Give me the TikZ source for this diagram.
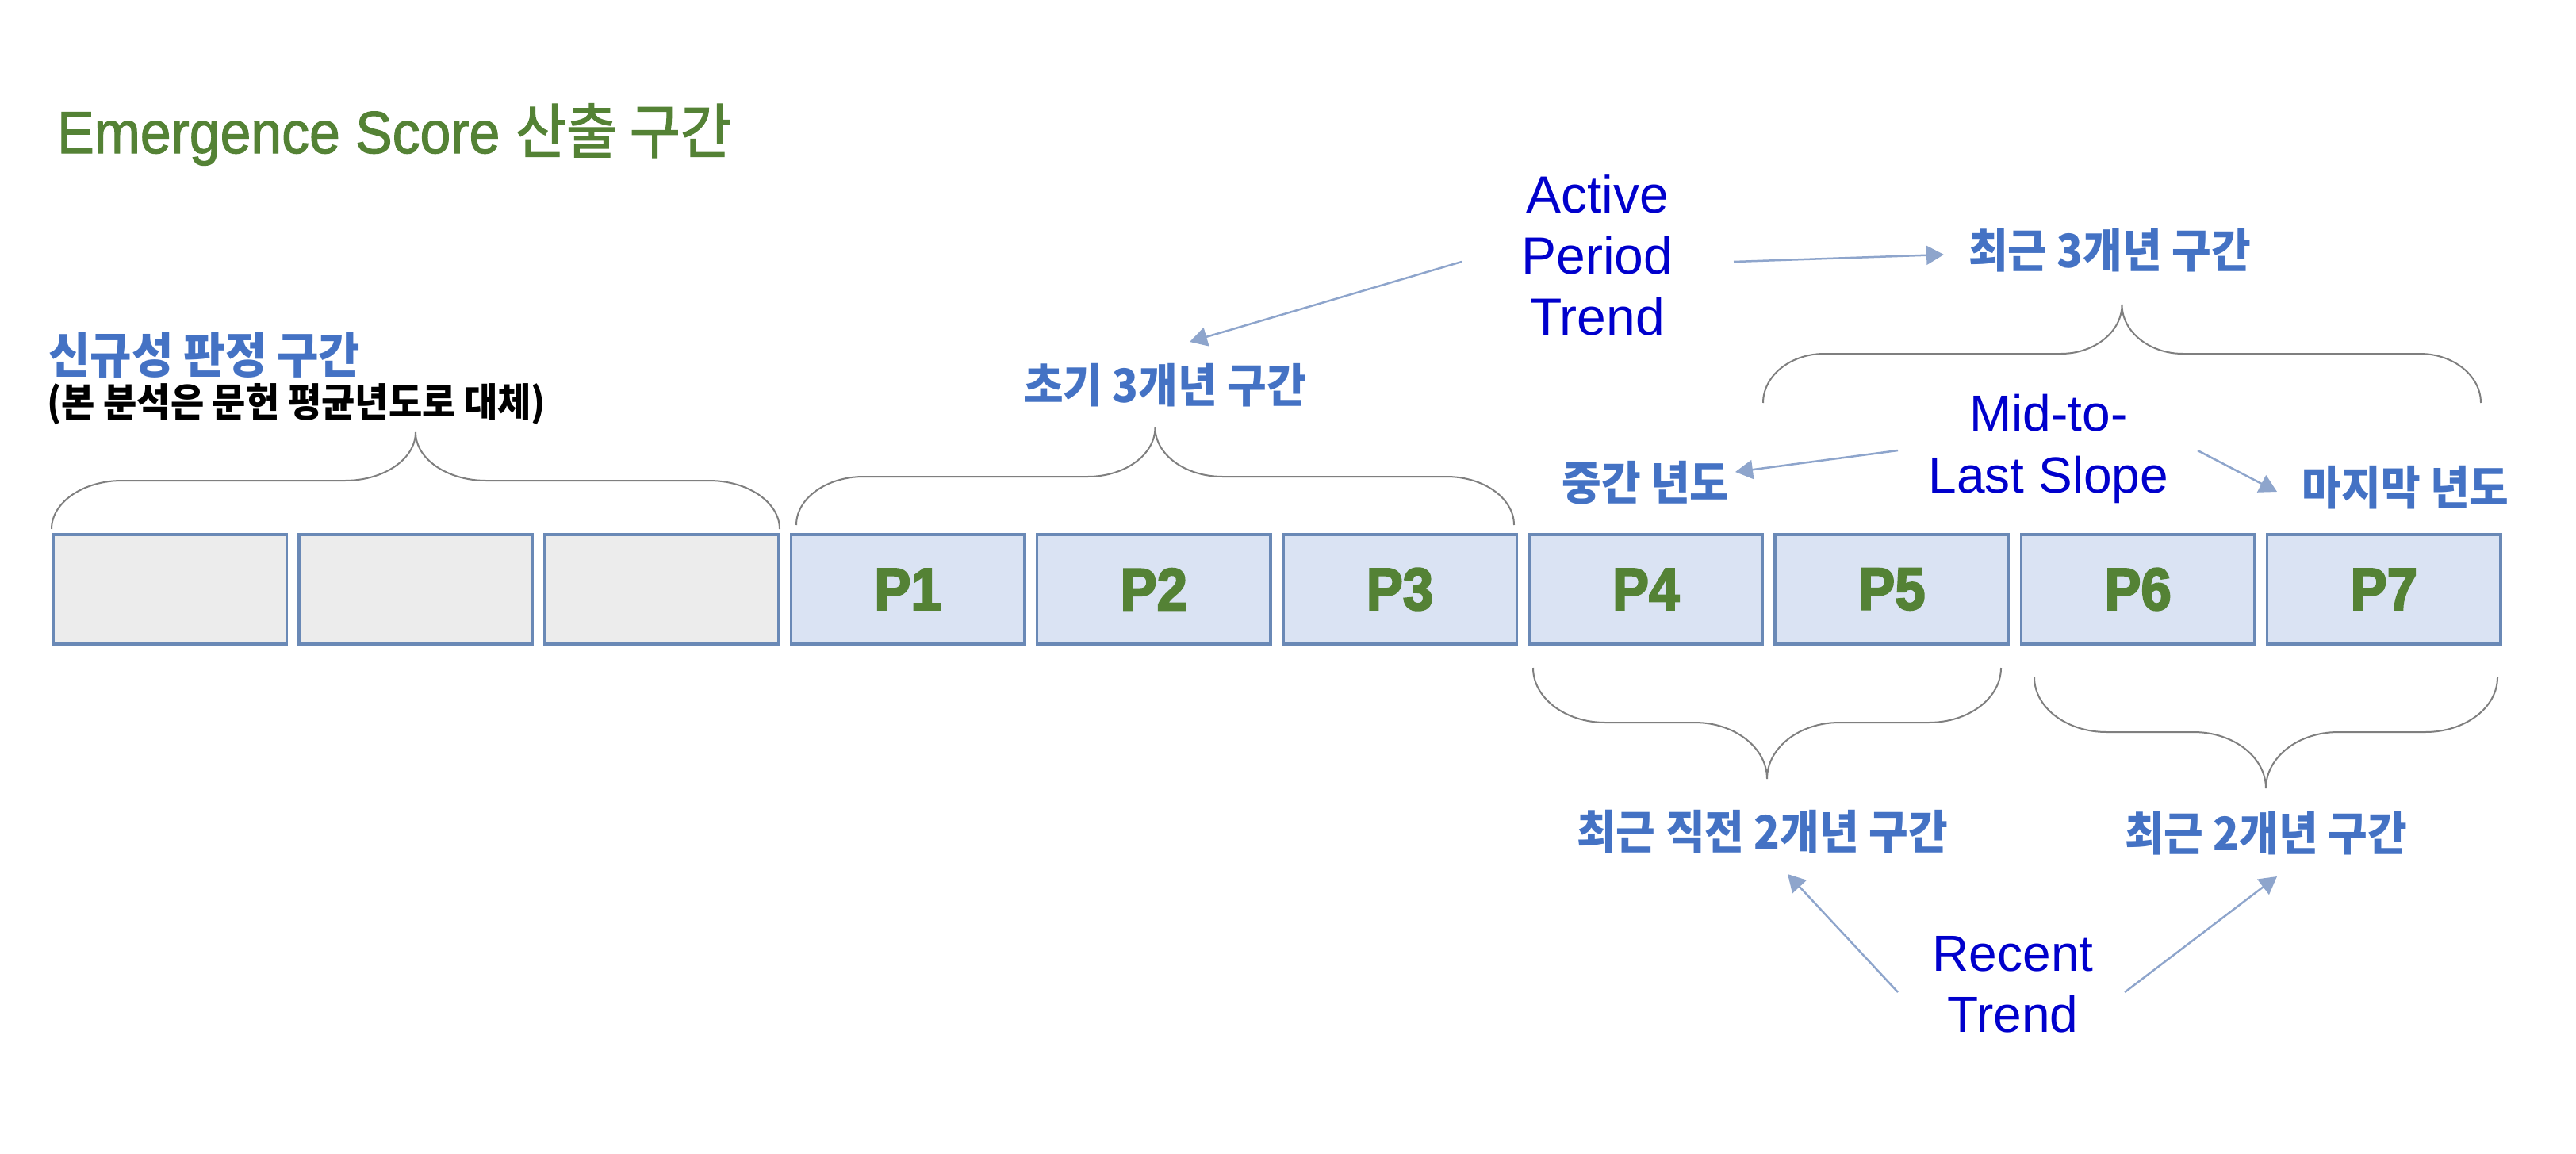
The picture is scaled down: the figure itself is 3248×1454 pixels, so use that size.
\documentclass[tikz,border=0pt]{standalone}
\usepackage{fontspec}
\usepackage{graphicx}
\usetikzlibrary{arrows.meta}
\setmainfont{Liberation Sans}
\newfontfamily\kr{Noto Sans CJK KR}
\newfontfamily\titlefont{Liberation Sans}[FakeBold=1.6]
\newfontfamily\krtitle{Noto Sans CJK KR}[FakeBold=1.8]
\newfontfamily\pfont{Liberation Sans}[BoldFeatures={FakeBold=3}]
\newcommand{\kv}[1]{\scalebox{1}[1.08]{#1}}
\definecolor{titlegreen}{HTML}{548235}
\definecolor{lblblue}{HTML}{4472C4}
\definecolor{darkblue}{HTML}{0000CC}
\definecolor{arrcol}{HTML}{8EA5CC}
\definecolor{boxedge}{HTML}{6A89B6}
\definecolor{boxblue}{HTML}{DAE3F3}
\definecolor{boxgray}{HTML}{ECECEC}
\definecolor{bracecol}{HTML}{7F7F7F}
\tikzset{
  graybox/.style={draw=boxedge, line width=3.5pt, fill=boxgray, minimum width=294.5pt, minimum height=138pt, inner sep=0pt},
  bluebox/.style={draw=boxedge, line width=3.5pt, fill=boxblue, minimum width=294.5pt, minimum height=138pt, inner sep=0pt,
    font=\pfont\bfseries\fontsize{75}{75}\selectfont, text=titlegreen},
  krlabel/.style={inner sep=0pt, text=lblblue, font=\kr\bfseries\fontsize{54}{54}\selectfont},
  enlabel/.style={inner sep=0pt, text=darkblue, align=center},
  brc/.style={draw=bracecol, line width=2pt},
  arr/.style={draw=arrcol, line width=2.5pt, -{Triangle[length=22pt,width=24pt]}}
}
\newcommand{\hbrace}[6]{%
 \pgfmathsetmacro{\brXm}{(#1+#2)/2}%
 \pgfmathsetmacro{\brCa}{#3+0.552*(#4-#3)}%
 \pgfmathsetmacro{\brCb}{#5+0.552*(#4-#5)}%
 \draw[brc] (#1,#3) .. controls (#1,\brCa) and ({#1+0.448*#6},#4) .. ({#1+#6},#4)
  -- ({\brXm-#6},#4) .. controls ({\brXm-0.448*#6},#4) and (\brXm,\brCb) .. (\brXm,#5)
  .. controls (\brXm,\brCb) and ({\brXm+0.448*#6},#4) .. ({\brXm+#6},#4)
  -- ({#2-#6},#4) .. controls ({#2-0.448*#6},#4) and (#2,\brCa) .. (#2,#3);}
\begin{document}
\begin{tikzpicture}[x=1pt,y=-1pt]
\useasboundingbox (0,0) rectangle (3248,1454);
\fill[white] (0,0) rectangle (3248,1454);

% title
\node[anchor=base west, inner sep=0pt, text=titlegreen] (title) at (72,193)
  {\scalebox{0.93}[1]{\titlefont\fontsize{75}{75}\selectfont Emergence Score {\krtitle\fontsize{75}{75}\selectfont 산출 구간}}};

% boxes
\foreach \i/\nm in {0/g1,1/g2,2/g3} {
  \node[graybox] (\nm) at ({65+310.2*\i+149},743) {};
}
\foreach \i/\nm/\lab in {3/p1/P1,4/p2/P2,5/p3/P3,6/p4/P4,7/p5/P5,8/p6/P6,9/p7/P7} {
  \node[bluebox] (\nm) at ({65+310.2*\i+149},743) {\scalebox{0.92}[1]{\lab}};
}

% braces
\hbrace{65}{983}{667}{606}{545}{89}
\hbrace{1004}{1909}{662}{601}{539}{85}
\hbrace{2223}{3128}{508}{446}{384}{77}
\hbrace{1933}{2523}{842}{911}{982}{91}
\hbrace{2565}{3149}{854}{923}{994}{91}

% korean labels
\node[krlabel, anchor=west, font=\kr\bfseries\fontsize{57}{57}\selectfont] (novel) at (61,448) {\kv{신규성 판정 구간}};
\node[krlabel, anchor=west, text=black, font=\kr\bfseries\fontsize{46}{46}\selectfont] (note) at (59,510) {\kv{(본 분석은 문헌 평균년도로 대체)}};
\node[krlabel] (early) at (1469,486) {\kv{초기 3개년 구간}};
\node[krlabel] (recent3) at (2660,316) {\kv{최근 3개년 구간}};
\node[krlabel] (midyr) at (2075,609) {\kv{중간 년도}};
\node[krlabel] (lastyr) at (3033,615) {\kv{마지막 년도}};
\node[krlabel] (prev2) at (2222,1049) {\kv{최근 직전 2개년 구간}};
\node[krlabel] (rec2) at (2857,1051) {\kv{최근 2개년 구간}};

% english labels
\node[enlabel, font=\fontsize{66}{77}\selectfont] (apt) at (2014,321.5) {Active\\Period\\Trend};
\node[enlabel, font=\fontsize{64}{78}\selectfont] (mts) at (2583,566) {Mid-to-\\Last Slope};
\node[enlabel, font=\fontsize{64}{77}\selectfont] (rt) at (2538,1241.5) {Recent\\Trend};

% arrow end coordinates
\coordinate (aptL) at (1843,330);
\coordinate (aptR) at (2186,330);
\coordinate (earlyT) at (1500,431);
\coordinate (recent3L) at (2451,321);
\coordinate (mtsL) at (2393,568);
\coordinate (mtsR) at (2771,568);
\coordinate (midyrR) at (2188,595);
\coordinate (lastyrL) at (2871,620);
\coordinate (rtL) at (2393,1251);
\coordinate (rtR) at (2679,1251);
\coordinate (prev2B) at (2254,1102);
\coordinate (rec2B) at (2871,1105);

\draw[arr] (aptL) -- (earlyT);
\draw[arr] (aptR) -- (recent3L);
\draw[arr] (mtsL) -- (midyrR);
\draw[arr] (mtsR) -- (lastyrL);
\draw[arr] (rtL) -- (prev2B);
\draw[arr] (rtR) -- (rec2B);
\end{tikzpicture}
\end{document}
